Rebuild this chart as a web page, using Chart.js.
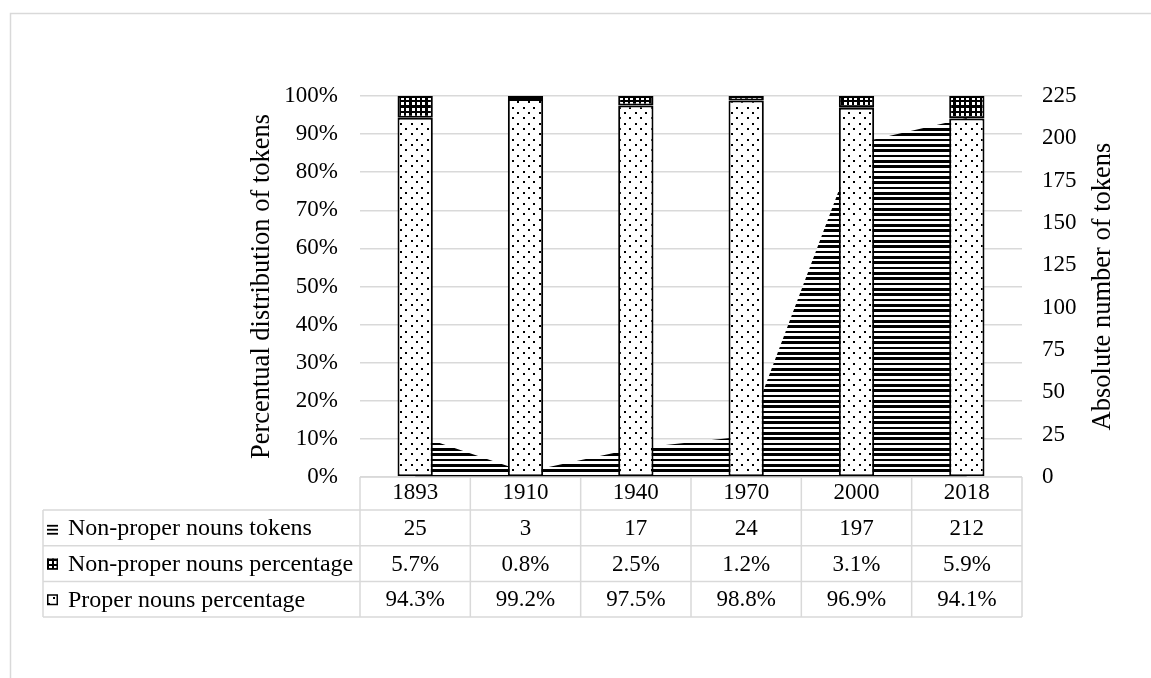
<!DOCTYPE html>
<html>
<head>
<meta charset="utf-8">
<script src="https://cdn.jsdelivr.net/npm/chart.js@4.4.1/dist/chart.umd.min.js"></script>
<style>
  html, body { margin: 0; padding: 0; background: #fff; }
  #wrap { width: 1151px; height: 678px; position: relative; }
</style>
</head>
<body>
<div id="wrap"><canvas id="c" width="1151" height="678"></canvas></div>
<script>
// ---- data ----
const years = ['1893', '1910', '1940', '1970', '2000', '2018'];
const properPct = [94.3, 99.2, 97.5, 98.8, 96.9, 94.1];
const nonProperPct = [5.7, 0.8, 2.5, 1.2, 3.1, 5.9];
const nonProperTokens = [25, 3, 17, 24, 197, 212];
const pctTickStep = 10;     // left axis: 0% .. 100%
const tokenTickStep = 25;   // right axis: 0 .. 225
const tokenMax = 225;
const seriesNames = ['Non-proper nouns tokens', 'Non-proper nouns percentage', 'Proper nouns percentage'];
const leftTitle = 'Percentual distribution of tokens';
const rightTitle = 'Absolute number of tokens';

// ---- styling ----
const FONT = 'Liberation Serif';
const tickFont = { family: FONT, size: 23 };
const GRID = '#d9d9d9';
const canvas = document.getElementById('c');
const ctx = canvas.getContext('2d');

// fill patterns built on a 32px tile (three 8-unit cells at 4/3 px per unit)
const U = 4 / 3;
function makePattern(draw) {
  const t = document.createElement('canvas');
  t.width = 32; t.height = 32;
  const g = t.getContext('2d');
  draw(g);
  return ctx.createPattern(t, 'repeat');
}
const dotted = makePattern(g => {
  g.fillStyle = '#fff'; g.fillRect(0, 0, 32, 32);
  g.fillStyle = '#000';
  for (let r = 0; r < 6; r++) {
    for (let i = 0; i < 3; i++) {
      const ux = 8 * i + (r % 2 ? 4 : 0), uy = 4 * r;
      g.fillRect(Math.round(ux * U), Math.round(uy * U), 2, 2);
    }
  }
});
const checker = makePattern(g => {
  g.fillStyle = '#000'; g.fillRect(0, 0, 32, 32);
  g.fillStyle = '#fff';
  for (let r = 0; r < 6; r++) {
    for (let i = 0; i < 6; i++) {
      g.fillRect(Math.round(4 * i * U) + 1, Math.round(4 * r * U) + 1, 3, 3);
    }
  }
});
const stripes = makePattern(g => {
  g.fillStyle = '#fff'; g.fillRect(0, 0, 32, 32);
  g.fillStyle = '#000';
  for (let r = 0; r < 6; r++) {
    const y0 = Math.round(4 * r * U), y1 = Math.round((4 * r + 2) * U);
    g.fillRect(0, y0, 32, y1 - y0);
  }
});

// ---- data table, legend keys, axis titles and frame ----
const tablePlugin = {
  id: 'dataTable',
  afterDraw(chart) {
    const c = chart.ctx;
    const area = chart.chartArea;
    const xs = chart.scales.x;
    const n = years.length;
    const colW = (area.right - area.left) / n;
    const legendLeft = 43;
    const headerBottom = area.bottom + 33;
    const rowH = 35.7;
    const rows = [
      { name: seriesNames[0], vals: nonProperTokens.map(v => String(v)), key: 'lines' },
      { name: seriesNames[1], vals: nonProperPct.map(v => v.toFixed(1) + '%'), key: checker },
      { name: seriesNames[2], vals: properPct.map(v => v.toFixed(1) + '%'), key: dotted }
    ];
    const tableBottom = headerBottom + rowH * rows.length;

    c.save();
    // outer frame of the chart
    c.strokeStyle = GRID; c.lineWidth = 1.5;
    c.strokeRect(10.5, 13.5, 3000, 3000);

    // table grid
    c.beginPath();
    c.moveTo(area.left, area.bottom); c.lineTo(area.right, area.bottom);
    for (let r = 0; r <= rows.length; r++) {
      const y = headerBottom + r * rowH;
      c.moveTo(legendLeft, y); c.lineTo(area.right, y);
    }
    for (let i = 0; i <= n; i++) {
      const x = area.left + i * colW;
      c.moveTo(x, area.bottom); c.lineTo(x, tableBottom);
    }
    c.moveTo(legendLeft, headerBottom); c.lineTo(legendLeft, tableBottom);
    c.stroke();

    // cell texts
    c.fillStyle = '#000';
    c.textBaseline = 'middle';
    rows.forEach((row, r) => {
      const cy = headerBottom + r * rowH + rowH / 2 + 1;
      c.font = '23px "' + FONT + '"';
      c.textAlign = 'center';
      row.vals.forEach((v, i) => c.fillText(v, xs.getPixelForValue(i), cy));
      c.font = '24px "' + FONT + '"';
      c.textAlign = 'left';
      c.fillText(row.name, 68, cy);
      // legend key
      const kx = 47, ky = cy - 6;
      if (row.key === 'lines') {
        c.fillStyle = '#000';
        for (let k = 0; k < 3; k++) c.fillRect(kx, ky + 2 + k * 4, 11, 1.8);
      } else {
        c.fillStyle = row.key;
        c.fillRect(kx, ky, 11, 11);
        c.strokeStyle = '#000'; c.lineWidth = 1.5;
        c.strokeRect(kx + 0.75, ky + 0.75, 9.5, 9.5);
        c.fillStyle = '#000';
      }
    });

    // axis titles, both read bottom to top
    c.font = '26.5px "' + FONT + '"';
    c.textAlign = 'center';
    c.textBaseline = 'middle';
    const midY = (area.top + area.bottom) / 2;
    [[leftTitle, 262], [rightTitle, 1103]].forEach(([t, x]) => {
      c.save();
      c.translate(x, midY);
      c.rotate(-Math.PI / 2);
      c.fillText(t, 0, 0);
      c.restore();
    });
    c.restore();
  }
};

new Chart(ctx, {
  type: 'bar',
  data: {
    labels: years,
    datasets: [
      {
        label: seriesNames[2], data: properPct, yAxisID: 'y', order: 1,
        backgroundColor: dotted, borderColor: '#000', borderWidth: 2, borderSkipped: false
      },
      {
        label: seriesNames[1], data: nonProperPct, yAxisID: 'y', order: 1,
        backgroundColor: checker, borderColor: '#000', borderWidth: 2, borderSkipped: false
      },
      {
        type: 'line', label: seriesNames[0], data: nonProperTokens, yAxisID: 'y2', order: 2,
        fill: 'origin', backgroundColor: stripes, borderWidth: 0, pointRadius: 0, tension: 0
      }
    ]
  },
  options: {
    responsive: false,
    animation: false,
    events: [],
    layout: { padding: { left: 240, top: 96, right: 0, bottom: 0 } },
    datasets: { bar: { categoryPercentage: 1, barPercentage: 0.32 } },
    plugins: { legend: { display: false }, tooltip: { enabled: false }, title: { display: false } },
    scales: {
      x: {
        stacked: true, offset: true,
        grid: { display: false, drawTicks: false },
        border: { display: false },
        ticks: { font: tickFont, color: '#000', padding: 2 },
        afterFit(s) { s.height = 201; }
      },
      y: {
        stacked: true, min: 0, max: 100,
        grid: { color: GRID, lineWidth: 1.5, drawTicks: false },
        border: { display: false },
        ticks: { stepSize: pctTickStep, padding: 22, font: tickFont, color: '#000', callback: v => v + '%' },
        afterFit(s) { s.width = 120; }
      },
      y2: {
        position: 'right', min: 0, max: tokenMax,
        grid: { display: false, drawTicks: false },
        border: { display: false },
        ticks: { stepSize: tokenTickStep, padding: 20, font: tickFont, color: '#000' },
        afterFit(s) { s.width = 129; }
      }
    }
  },
  plugins: [tablePlugin]
});
</script>
</body>
</html>
